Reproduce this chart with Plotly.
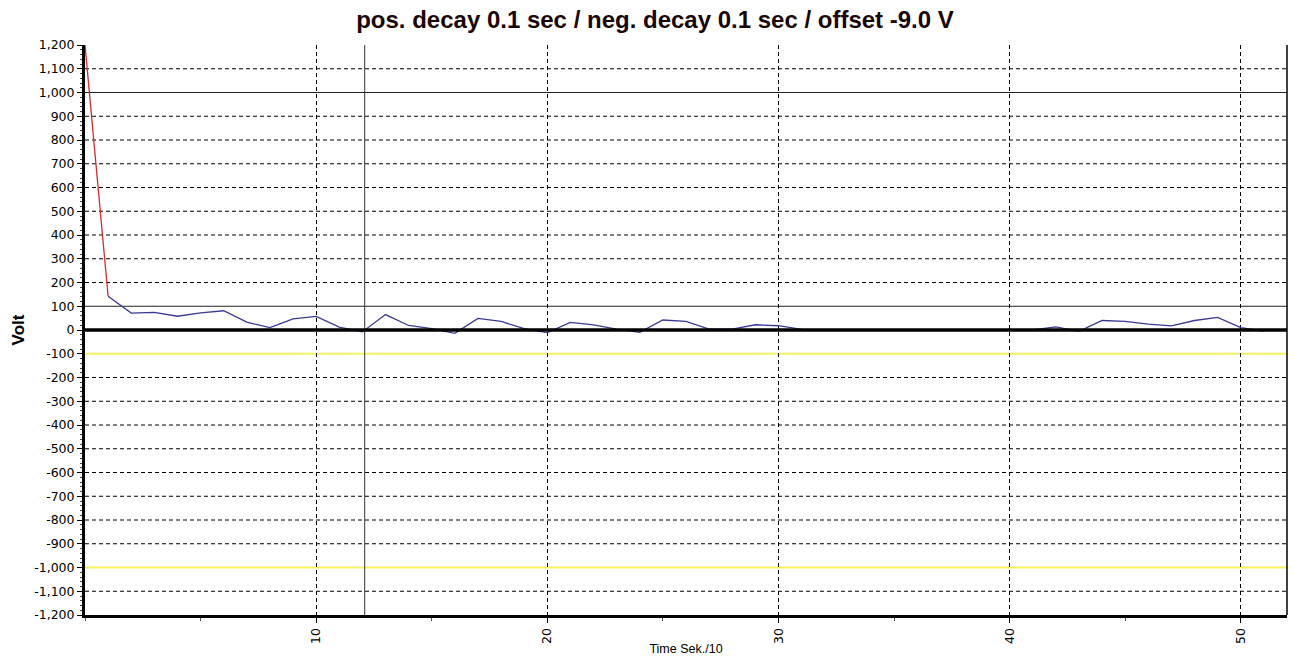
import plotly.graph_objects as go

# ---- data ----
red_x = [0, 1]
red_y = [1200, 142]

blue_x = list(range(1, 52))
blue_y = [142, 71, 74, 58, 72, 81, 33, 10, 47, 57,
          12, -8, 65, 19, 6, -14, 49, 36, 6, -11,
          32, 22, 4, -10, 42, 36, 4, 4, 22, 18,
          3, 0, 0, 0, 0, 0, 0, 0, 0, 0,
          0, 13, -6, 40, 36, 25, 17, 40, 53, 10,
          -5]

y_ticks = list(range(-1200, 1300, 100))
y_ticktext = [f"{v:,}" for v in y_ticks]
x_ticks = [10, 20, 30, 40, 50]

solid_levels = [100, 1000]
yellow_levels = [-100, -1000]
zero_level = [0]
cursor_x = [12.1]

title_text = "pos. decay 0.1 sec / neg. decay 0.1 sec / offset -9.0 V"
x_title = "Time Sek./10"
y_title = "Volt"

X_RANGE = [0, 52]
Y_RANGE = [-1200, 1200]

fig = go.Figure()
fig.add_trace(go.Scatter(x=red_x, y=red_y, mode="lines",
                         line=dict(color="#d42a2a", width=1.3), hoverinfo="skip"))
fig.add_trace(go.Scatter(x=blue_x, y=blue_y, mode="lines",
                         line=dict(color="#3a3a94", width=1.3), hoverinfo="skip"))

shapes = []
special = set(solid_levels + yellow_levels + zero_level)
for v in y_ticks:
    if v in special or v in (Y_RANGE[0], Y_RANGE[1]):
        continue
    shapes.append(dict(type="line", xref="paper", x0=0, x1=1, yref="y", y0=v, y1=v,
                       line=dict(color="black", width=1, dash="4px,3px"), layer="below"))
for v in solid_levels:
    shapes.append(dict(type="line", xref="paper", x0=0, x1=1, yref="y", y0=v, y1=v,
                       line=dict(color="#222222", width=1), layer="below"))
for v in yellow_levels:
    shapes.append(dict(type="line", xref="paper", x0=0, x1=1, yref="y", y0=v, y1=v,
                       line=dict(color="#f5f060", width=1.8), layer="below"))
for v in cursor_x:
    shapes.append(dict(type="line", xref="x", x0=v, x1=v, yref="paper", y0=0, y1=1,
                       line=dict(color="#333333", width=1), layer="below"))
for v in zero_level:
    shapes.append(dict(type="line", xref="paper", x0=0, x1=1, yref="y", y0=v, y1=v,
                       line=dict(color="black", width=3.5), layer="above"))
# right border
shapes.append(dict(type="line", xref="paper", x0=1, x1=1, yref="paper", y0=0, y1=1,
                   line=dict(color="black", width=1.5), layer="above"))

fig.update_layout(
    width=1293, height=661,
    margin=dict(l=85, r=6, t=45, b=44),
    paper_bgcolor="white", plot_bgcolor="white",
    showlegend=False,
    shapes=shapes,
    font=dict(family="Liberation Sans, Arial, sans-serif", color="black", size=11),
    title=dict(text=title_text, x=655 / 1293, xref="container", xanchor="center",
               y=1 - 20 / 661, yref="container", yanchor="middle",
               font=dict(size=24, color="#1a0505", family="Liberation Sans, Arial, sans-serif",
                         weight="bold")),
)

fig.update_xaxes(
    range=X_RANGE, tickvals=x_ticks, tickangle=-90,
    showgrid=True, gridcolor="black", gridwidth=1, griddash="4px,3px",
    showline=True, linecolor="black", linewidth=3,
    ticks="outside", ticklen=5, tickcolor="black",
    minor=dict(dtick=5, tick0=0, ticks="outside", ticklen=3, tickcolor="#555555", showgrid=False),
    zeroline=False,
    title=dict(text=x_title, font=dict(size=12.5), standoff=2),
    tickfont=dict(size=12.5, family="DejaVu Sans"),
)
fig.update_yaxes(
    range=Y_RANGE, tickvals=y_ticks, ticktext=y_ticktext,
    showgrid=False, zeroline=False,
    showline=True, linecolor="black", linewidth=3,
    ticks="outside", ticklen=5, tickcolor="black",
    minor=dict(dtick=20, tick0=0, ticks="outside", ticklen=2, tickcolor="#444444", showgrid=False),
    title=dict(text=y_title, font=dict(size=17, weight="bold"), standoff=6),
    tickfont=dict(size=12.5, family="DejaVu Sans"),
)

fig.write_html("out.html", config={"displayModeBar": False},
               post_script="document.body.style.margin='0px';")
